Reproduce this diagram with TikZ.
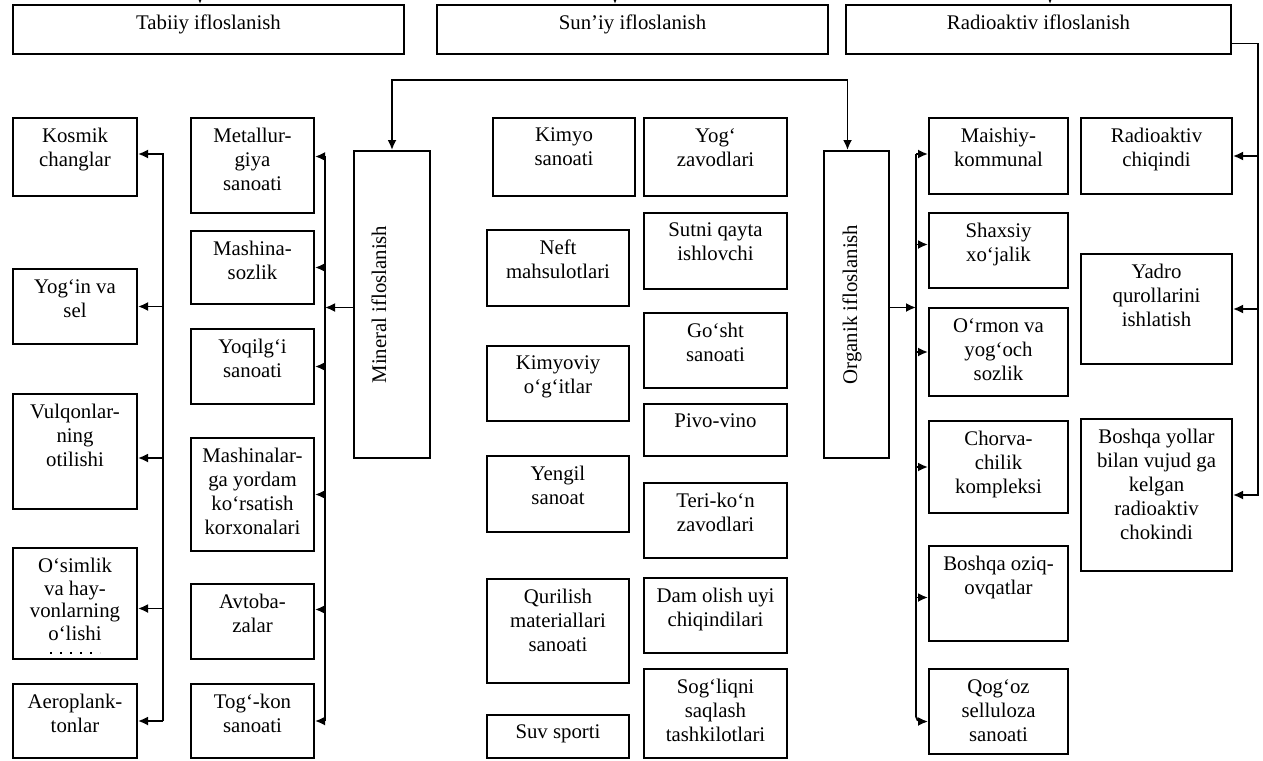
\documentclass[tikz,border=0pt]{standalone}
\usepackage{fontspec}
\setmainfont{Liberation Serif}
\usetikzlibrary{arrows.meta}
\begin{document}
\begin{tikzpicture}[x=1pt,y=-1pt,font=\fontsize{20.8}{24}\selectfont,
        bx/.style={draw,line width=2pt,anchor=north west,inner sep=0pt},
        txt/.style={anchor=north,align=center,inner sep=0pt,yshift=-11pt},
        arr/.style={-{Latex[length=10pt,width=9pt]},line width=1.8pt}]
    \useasboundingbox (0,0) rectangle (1263,760);
    \node[bx,minimum width=391,minimum height=49,label={[txt]north:Tabiiy ifloslanish}] (tabiiy) at (12,4) {};
    \node[bx,minimum width=391,minimum height=49,label={[txt]north:Sun’iy ifloslanish}] (suniy) at (436,4) {};
    \node[bx,minimum width=385,minimum height=49,label={[txt]north:Radioaktiv ifloslanish}] (radio) at (845,4) {};
    \node[bx,minimum width=124,minimum height=78,label={[txt]north:{Kosmik\\changlar}}] (kosmik) at (12,117) {};
    \node[bx,minimum width=124,minimum height=75,label={[txt]north:{Yog‘in va\\sel}}] (yogin) at (12,268) {};
    \node[bx,minimum width=124,minimum height=115,label={[txt]north:{Vulqonlar-\\ning\\otilishi}}] (vulqon) at (12,393) {};
    \node[bx,minimum width=124,minimum height=111,label={[txt,font=\fontsize{20.8}{22.5}\selectfont]north:{O‘simlik\\va hay-\\vonlarning\\o‘lishi}}] (osimlik) at (12,547) {};
    \node[bx,minimum width=124,minimum height=74,label={[txt]north:{Aeroplank-\\tonlar}}] (aero) at (12,683) {};
    \node[bx,minimum width=123,minimum height=95,label={[txt]north:{Metallur-\\giya\\sanoati}}] (metall) at (190,117) {};
    \node[bx,minimum width=123,minimum height=73,label={[txt]north:{Mashina-\\sozlik}}] (mashsoz) at (190,230) {};
    \node[bx,minimum width=123,minimum height=75,label={[txt]north:{Yoqilg‘i\\sanoati}}] (yoqilgi) at (190,328) {};
    \node[bx,minimum width=123,minimum height=113,label={[txt]north:{Mashinalar-\\ga yordam\\ko‘rsatish\\korxonalari}}] (mashinalar) at (190,437) {};
    \node[bx,minimum width=123,minimum height=75,label={[txt]north:{Avtoba-\\zalar}}] (avto) at (190,583) {};
    \node[bx,minimum width=123,minimum height=74,label={[txt]north:{Tog‘-kon\\sanoati}}] (togkon) at (190,683) {};
    \node[bx,minimum width=76,minimum height=307] (mineral) at (353,150) {};
    \node[rotate=90,anchor=base,inner sep=0pt] (mineral-t) at ([xshift=33pt]mineral.west) {Mineral ifloslanish};
    \node[bx,minimum width=142,minimum height=78,label={[txt]north:{Kimyo\\sanoati}}] (kimyo) at (492,117) {};
    \node[bx,minimum width=142,minimum height=76,label={[txt]north:{Neft\\mahsulotlari}}] (neft) at (486,229) {};
    \node[bx,minimum width=142,minimum height=75,label={[txt]north:{Kimyoviy\\o‘g‘itlar}}] (kimyoviy) at (486,345) {};
    \node[bx,minimum width=142,minimum height=76,label={[txt]north:{Yengil\\sanoat}}] (yengil) at (486,455) {};
    \node[bx,minimum width=142,minimum height=104,label={[txt]north:{Qurilish\\materiallari\\sanoati}}] (qurilish) at (486,578) {};
    \node[bx,minimum width=142,minimum height=43,label={[txt]north:Suv sporti}] (suv) at (486,714) {};
    \node[bx,minimum width=143,minimum height=78,label={[txt]north:{Yog‘\\zavodlari}}] (yog) at (643,117) {};
    \node[bx,minimum width=143,minimum height=76,label={[txt]north:{Sutni qayta\\ishlovchi}}] (sutni) at (643,212) {};
    \node[bx,minimum width=143,minimum height=75,label={[txt]north:{Go‘sht\\sanoati}}] (gosht) at (643,312) {};
    \node[bx,minimum width=143,minimum height=52,label={[txt]north:Pivo-vino}] (pivo) at (643,403) {};
    \node[bx,minimum width=143,minimum height=75,label={[txt]north:{Teri-ko‘n\\zavodlari}}] (teri) at (643,482) {};
    \node[bx,minimum width=143,minimum height=75,label={[txt]north:{Dam olish uyi\\chiqindilari}}] (dam) at (643,577) {};
    \node[bx,minimum width=143,minimum height=89,label={[txt]north:{Sog‘liqni\\saqlash\\tashkilotlari}}] (sogliq) at (643,668) {};
    \node[bx,minimum width=65,minimum height=307] (organik) at (823,150) {};
    \node[rotate=90,anchor=base,inner sep=0pt] (organik-t) at ([xshift=34pt]organik.west) {Organik ifloslanish};
    \node[bx,minimum width=139,minimum height=76,label={[txt]north:{Maishiy-\\kommunal}}] (maishiy) at (928,117) {};
    \node[bx,minimum width=139,minimum height=75,label={[txt]north:{Shaxsiy\\xo‘jalik}}] (shaxsiy) at (928,212) {};
    \node[bx,minimum width=139,minimum height=88,label={[txt]north:{O‘rmon va\\yog‘och\\sozlik}}] (ormon) at (928,307) {};
    \node[bx,minimum width=139,minimum height=92,label={[txt]north:{Chorva-\\chilik\\kompleksi}}] (chorva) at (928,420) {};
    \node[bx,minimum width=139,minimum height=95,label={[txt]north:{Boshqa oziq-\\ovqatlar}}] (boshqaoz) at (928,545) {};
    \node[bx,minimum width=139,minimum height=85,label={[txt]north:{Qog‘oz\\selluloza\\sanoati}}] (qogoz) at (928,668) {};
    \node[bx,minimum width=151,minimum height=76,label={[txt]north:{Radioaktiv\\chiqindi}}] (radchiq) at (1080,117) {};
    \node[bx,minimum width=151,minimum height=110,label={[txt]north:{Yadro\\qurollarini\\ishlatish}}] (yadro) at (1080,253) {};
    \node[bx,minimum width=151,minimum height=152,label={[txt]north:{Boshqa yollar\\bilan vujud ga\\kelgan\\radioaktiv\\chokindi}}] (boshyol) at (1080,418) {};
    \draw[line width=1.2pt,dash pattern=on 2pt off 8pt] ([xshift=-25pt,yshift=7pt]osimlik.south) -- ([xshift=25pt,yshift=7pt]osimlik.south);
    \coordinate (lbus) at (163,0);
    \coordinate (bbus) at (325,0);
    \coordinate (ebus) at (916,0);
    \coordinate (fbus) at (1258,0);
    \coordinate (hub) at (620,80);
    \coordinate (intab) at (200,-12);
    \coordinate (insun) at (615,-12);
    \coordinate (inrad) at (1050,-12);
    \draw[arr] (intab) -- (intab |- tabiiy.north);
    \draw[arr] (insun) -- (insun |- suniy.north);
    \draw[arr] (inrad) -- (inrad |- radio.north);
    \draw[arr] (aero.east -| lbus) |- ([yshift=3pt]kosmik.east);
    \draw[arr] (yogin.east -| lbus) -- (yogin.east);
    \draw[arr] ([yshift=-6.5pt]vulqon.east -| lbus) -- ([yshift=-6.5pt]vulqon.east);
    \draw[arr] ([yshift=-5pt]osimlik.east -| lbus) -- ([yshift=-5pt]osimlik.east);
    \draw[arr] (aero.east -| lbus) -- (aero.east);
    \draw[arr] (togkon.east -| bbus) |- ([yshift=9pt]metall.east);
    \draw[arr] (mashsoz.east -| bbus) -- (mashsoz.east);
    \draw[arr] (yoqilgi.east -| bbus) -- (yoqilgi.east);
    \draw[arr] (mashinalar.east -| bbus) -- (mashinalar.east);
    \draw[arr] ([yshift=12pt]avto.east -| bbus) -- ([yshift=12pt]avto.east);
    \draw[arr] (togkon.east -| bbus) -- (togkon.east);
    \draw[arr] ([yshift=-3pt]mineral.west) -- ([yshift=-3pt]mineral.west -| bbus);
    \draw[arr] (hub) -| (mineral.north);
    \draw[arr] (hub) -| ([xshift=-9pt]organik.north);
    \draw[arr] ([yshift=-3pt]organik.east) -- ([yshift=-3pt]organik.east -| ebus);
    \draw[arr,rounded corners=5pt] ([yshift=2pt]maishiy.west -| ebus) |- ([yshift=-10pt]qogoz.west);
    \draw[arr] ([yshift=2pt]maishiy.west -| ebus) -- ([yshift=2pt]maishiy.west);
    \draw[arr] ([yshift=6pt]shaxsiy.west -| ebus) -- ([yshift=6pt]shaxsiy.west);
    \draw[arr] (ormon.west -| ebus) -- (ormon.west);
    \draw[arr] (chorva.west -| ebus) -- (chorva.west);
    \draw[arr] ([yshift=-4pt]boshqaoz.west -| ebus) -- ([yshift=-4pt]boshqaoz.west);
    \draw[arr] ([yshift=-14pt]radio.east) -| (boshyol.east -| fbus) -- (boshyol.east);
    \draw[arr] (radchiq.east -| fbus) -- (radchiq.east);
    \draw[arr] (yadro.east -| fbus) -- (yadro.east);
\end{tikzpicture}
\end{document}
